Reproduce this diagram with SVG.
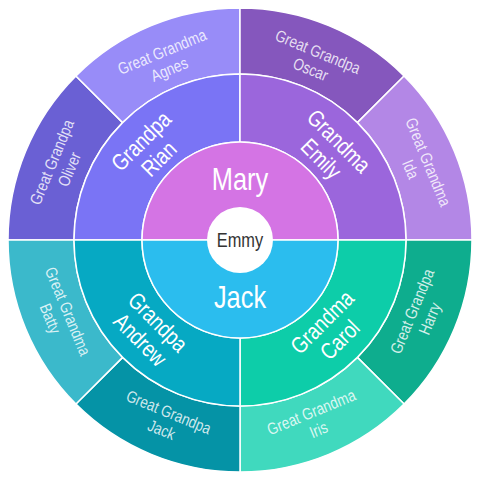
<svg xmlns="http://www.w3.org/2000/svg" width="480" height="480" viewBox="0 0 480 480">
<style>
.seg{stroke:#fff;stroke-width:1.5}
text{font-family:"Liberation Sans",Arial,sans-serif;text-anchor:middle}
.l1{fill:#fff;font-size:31px}
.l2{fill:#fff;font-size:23px}
.l3{fill:#fff;fill-opacity:0.82;font-size:16.5px}
.c{fill:#333;font-size:20px}
</style>
<rect width="480" height="480" fill="#fff"/>
<g id="ring3">
<g id="oliver"><path class="seg" fill="#6A60D4" d="M8 240A232 232 0 0 1 75.95 75.95L122.62 122.62A166 166 0 0 0 74 240Z"/><g transform="translate(59.8,165.4) rotate(-67.5) scale(0.82,1)"><text class="l3" y="-3">Great Grandpa</text><text class="l3" y="16">Oliver</text></g></g>
<g id="agnes"><path class="seg" fill="#988CF8" d="M75.95 75.95A232 232 0 0 1 240 8L240 74A166 166 0 0 0 122.62 122.62Z"/><g transform="translate(165.4,59.8) rotate(-22.5) scale(0.82,1)"><text class="l3" y="-3">Great Grandma</text><text class="l3" y="16">Agnes</text></g></g>
<g id="oscar"><path class="seg" fill="#8557BD" d="M240 8A232 232 0 0 1 404.05 75.95L357.38 122.62A166 166 0 0 0 240 74Z"/><g transform="translate(314.6,59.8) rotate(22.5) scale(0.82,1)"><text class="l3" y="-3">Great Grandpa</text><text class="l3" y="16">Oscar</text></g></g>
<g id="ida"><path class="seg" fill="#B387E6" d="M404.05 75.95A232 232 0 0 1 472 240L406 240A166 166 0 0 0 357.38 122.62Z"/><g transform="translate(420.2,165.4) rotate(67.5) scale(0.82,1)"><text class="l3" y="-3">Great Grandma</text><text class="l3" y="16">Ida</text></g></g>
<g id="harry"><path class="seg" fill="#0EAD8E" d="M472 240A232 232 0 0 1 404.05 404.05L357.38 357.38A166 166 0 0 0 406 240Z"/><g transform="translate(420.2,314.6) rotate(-67.5) scale(0.82,1)"><text class="l3" y="-3">Great Grandpa</text><text class="l3" y="16">Harry</text></g></g>
<g id="iris"><path class="seg" fill="#40D9BE" d="M404.05 404.05A232 232 0 0 1 240 472L240 406A166 166 0 0 0 357.38 357.38Z"/><g transform="translate(314.6,420.2) rotate(-22.5) scale(0.82,1)"><text class="l3" y="-3">Great Grandma</text><text class="l3" y="16">Iris</text></g></g>
<g id="jackggp"><path class="seg" fill="#0593A6" d="M240 472A232 232 0 0 1 75.95 404.05L122.62 357.38A166 166 0 0 0 240 406Z"/><g transform="translate(165.4,420.2) rotate(22.5) scale(0.82,1)"><text class="l3" y="-3">Great Grandpa</text><text class="l3" y="16">Jack</text></g></g>
<g id="batty"><path class="seg" fill="#3BB9CB" d="M75.95 404.05A232 232 0 0 1 8 240L74 240A166 166 0 0 0 122.62 357.38Z"/><g transform="translate(59.8,314.6) rotate(67.5) scale(0.82,1)"><text class="l3" y="-3">Great Grandma</text><text class="l3" y="16">Batty</text></g></g>
</g>
<g id="ring2">
<g id="rian"><path class="seg" fill="#7A74F5" d="M74 240A166 166 0 0 1 240 74L240 142A98 98 0 0 0 142 240Z"/><g transform="translate(149.5,149.5) rotate(-45) scale(0.82,1)"><text class="l2" y="-4">Grandpa</text><text class="l2" y="21">Rian</text></g></g>
<g id="emily"><path class="seg" fill="#9B66DC" d="M240 74A166 166 0 0 1 406 240L338 240A98 98 0 0 0 240 142Z"/><g transform="translate(330.5,149.5) rotate(45) scale(0.82,1)"><text class="l2" y="-4">Grandma</text><text class="l2" y="21">Emily</text></g></g>
<g id="carol"><path class="seg" fill="#0DCDA9" d="M406 240A166 166 0 0 1 240 406L240 338A98 98 0 0 0 338 240Z"/><g transform="translate(330.5,330.5) rotate(-45) scale(0.82,1)"><text class="l2" y="-4">Grandma</text><text class="l2" y="21">Carol</text></g></g>
<g id="andrew"><path class="seg" fill="#06A9C3" d="M240 406A166 166 0 0 1 74 240L142 240A98 98 0 0 0 240 338Z"/><g transform="translate(149.5,330.5) rotate(45) scale(0.82,1)"><text class="l2" y="-4">Grandpa</text><text class="l2" y="21">Andrew</text></g></g>
</g>
<g id="ring1">
<g id="mary"><path class="seg" fill="#D474E4" d="M142 240A98 98 0 0 1 338 240Z"/><g transform="translate(240,190) scale(0.82,1)"><text class="l1">Mary</text></g></g>
<g id="jack"><path class="seg" fill="#2BBDEE" d="M142 240A98 98 0 0 0 338 240Z"/><g transform="translate(240,308) scale(0.82,1)"><text class="l1">Jack</text></g></g>
</g>
<g id="emmy"><circle cx="240" cy="240" r="33" fill="#fff"/><g transform="translate(240,247) scale(0.82,1)"><text class="c">Emmy</text></g></g>
</svg>
